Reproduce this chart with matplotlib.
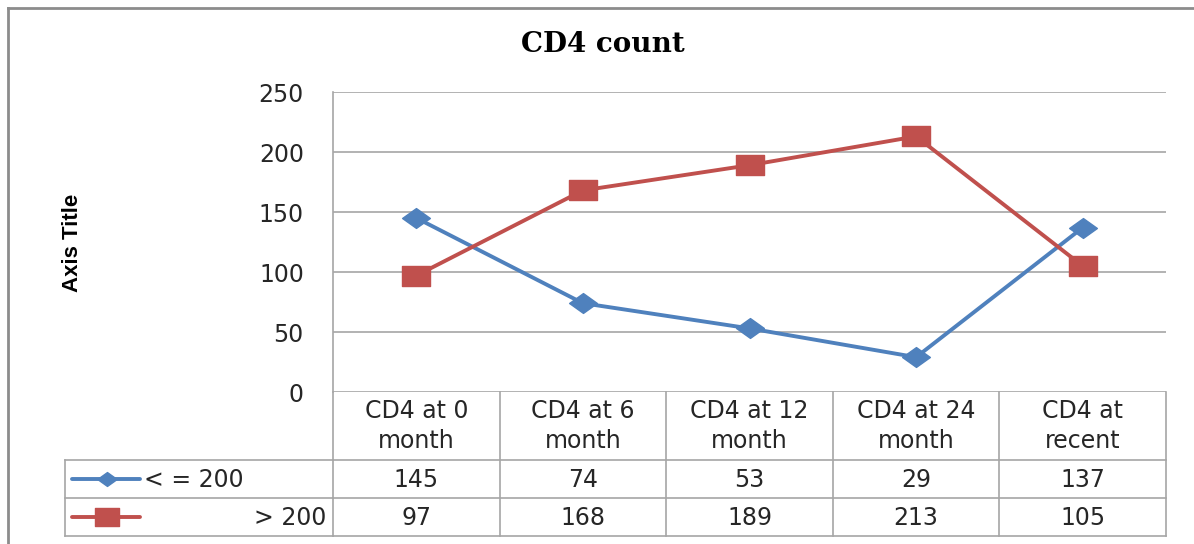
import numpy as np
import matplotlib
matplotlib.use("Agg")
import matplotlib.pyplot as plt
from matplotlib.path import Path
from matplotlib.transforms import blended_transform_factory

# --- data ---
categories = ["CD4 at 0\nmonth", "CD4 at 6\nmonth", "CD4 at 12\nmonth",
              "CD4 at 24\nmonth", "CD4 at\nrecent"]
low_cd4 = [145, 74, 53, 29, 137]     # < = 200
high_cd4 = [97, 168, 189, 213, 105]  # > 200
series_names = ["< = 200", "> 200"]
yticks = [0, 50, 100, 150, 200, 250]

BLUE = "#4F81BD"
RED = "#C0504D"
GRID = "#A6A6A6"
TEXT = "#262626"
FS = 17

# the source picture is stretched sideways, so the markers are too
diamond = Path([(-0.7, 0), (0, 0.5), (0.7, 0), (0, -0.5), (-0.7, 0)],
               [Path.MOVETO, Path.LINETO, Path.LINETO, Path.LINETO, Path.CLOSEPOLY])
square = Path([(-0.68, -0.5), (0.68, -0.5), (0.68, 0.5), (-0.68, 0.5), (-0.68, -0.5)],
              [Path.MOVETO, Path.LINETO, Path.LINETO, Path.LINETO, Path.CLOSEPOLY])

W, H = 1194, 544
fig = plt.figure(figsize=(W / 100, H / 100), dpi=100)

# overlay in pixel coordinates for frame + data table
ov = fig.add_axes([0, 0, 1, 1], zorder=0)
ov.set_xlim(0, W)
ov.set_ylim(H, 0)
ov.axis("off")

# main plot area
x0, x1, ytop, ybot = 333, 1166, 92, 392
ax = fig.add_axes([x0 / W, (H - ybot) / H, (x1 - x0) / W, (ybot - ytop) / H], zorder=2)
ax.patch.set_alpha(0)
x = np.arange(len(categories))
ax.plot(x, low_cd4, color=BLUE, lw=2.8, marker=diamond, ms=20, zorder=3)
ax.plot(x, high_cd4, color=RED, lw=2.8, marker=square, ms=20, zorder=3)
ax.set_xlim(-0.5, len(categories) - 0.5)
ax.set_ylim(0, 250)
ax.set_yticks(yticks)
ax.set_xticks([])
ax.tick_params(axis="y", length=0, pad=21, labelsize=FS, labelcolor=TEXT)
ax.grid(axis="y", color=GRID, lw=1.2)
for s in ["top", "right", "bottom"]:
    ax.spines[s].set_visible(False)
ax.spines["left"].set_color(GRID)
ax.spines["left"].set_linewidth(1.2)

fig.text(603 / W, 1 - 45 / H, "CD4 count", ha="center", va="center",
         fontsize=20, fontweight="bold", family="DejaVu Serif", color="black")
fig.text(72 / W, 1 - 243 / H, "Axis Title", ha="center", va="center", rotation=90,
         fontsize=16, fontweight="bold", family="Liberation Sans", color="black")

# outer chart border
ov.plot([8, 8], [H, 8], color="#8C8C8C", lw=2)
ov.plot([8, W], [8, 8], color="#8C8C8C", lw=2)

# data table under the plot (x from the plot's category scale, y in pixels)
tr = blended_transform_factory(ax.transData, ov.transData)
edges = np.arange(len(categories) + 1) - 0.5
row_y = [392, 460, 498, 536]
lkw = dict(color=GRID, lw=1.2, transform=tr, clip_on=False)
for e in edges:
    ov.plot([e, e], [row_y[0], row_y[-1]], **lkw)
for yy in row_y[1:]:
    ov.plot([x0, x1], [yy, yy], color=GRID, lw=1.2)
    ov.plot([65, x0], [yy, yy], color=GRID, lw=1.2)
ov.plot([65, 65], [row_y[1], row_y[-1]], color=GRID, lw=1.2)

for i, cat in enumerate(categories):
    ov.text(x[i], (row_y[0] + row_y[1]) / 2, cat, transform=tr, ha="center", va="center",
            fontsize=FS, color=TEXT, linespacing=1.3)
    ov.text(x[i], (row_y[1] + row_y[2]) / 2 + 1, str(low_cd4[i]), transform=tr,
            ha="center", va="center", fontsize=FS, color=TEXT)
    ov.text(x[i], (row_y[2] + row_y[3]) / 2 + 1, str(high_cd4[i]), transform=tr,
            ha="center", va="center", fontsize=FS, color=TEXT)

# legend keys inside the table rows
ym1 = (row_y[1] + row_y[2]) / 2
ym2 = (row_y[2] + row_y[3]) / 2
ov.plot([72, 140], [ym1, ym1], color=BLUE, lw=2.8, solid_capstyle="round")
ov.plot([107], [ym1], color=BLUE, marker=diamond, ms=14, ls="none")
ov.plot([72, 140], [ym2, ym2], color=RED, lw=2.8, solid_capstyle="round")
ov.plot([107], [ym2], color=RED, marker=square, ms=17, ls="none")
ov.text(144, ym1 + 1, series_names[0], ha="left", va="center", fontsize=FS, color=TEXT)
ov.text(326, ym2 + 1, series_names[1], ha="right", va="center", fontsize=FS, color=TEXT)

fig.savefig("out.png", dpi=100, facecolor="white")
